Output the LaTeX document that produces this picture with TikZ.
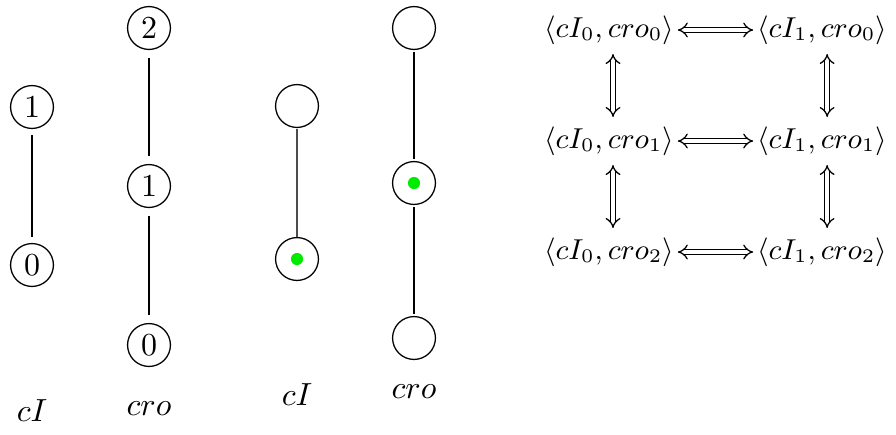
\documentclass[tikz,border=0pt]{standalone}
\usetikzlibrary{arrows.meta}
\begin{document}
\begin{tikzpicture}[x=0.3125pt,y=-0.3125pt,
  st/.style={circle,draw,line width=0.4pt,minimum size=13.4pt,inner sep=0pt},
  lnk/.style={line width=0.4pt},
  pair/.style={inner sep=1pt,font=\fontsize{9.2}{11}\selectfont},
  dbl/.style={double,double distance=1.2pt,line width=0.4pt,{Implies}-{Implies}},
  lab/.style={anchor=base,inner sep=0pt},
  dot/.style={fill={rgb,255:red,0;green,235;blue,0}}]
\useasboundingbox (0,0) rectangle (896,434);
% column 1
\node[st] (a1) at (32,107) {$1$};
\node[st] (a0) at (32,265) {$0$};
\draw[lnk,shorten <=1.9pt,shorten >=1.9pt] (a1) -- (a0);
% column 2
\node[st] (b2) at (149,28) {$2$};
\node[st] (b1) at (149,186) {$1$};
\node[st] (b0) at (149,345) {$0$};
\draw[lnk,shorten <=2.4pt,shorten >=2.4pt] (b2) -- (b1);
\draw[lnk,shorten <=2.4pt,shorten >=2.4pt] (b1) -- (b0);
% column 3
\node[st] (c1) at (297,106) {};
\node[st] (c0) at (297,259) {};
\fill[dot] (c0.center) circle[radius=1.9pt];
\draw[lnk,black!70,shorten <=0.3pt] (c1) -- (c0);
% column 4
\node[st] (d2) at (414,28) {};
\node[st] (d1) at (414,183) {};
\node[st] (d0) at (414,338) {};
\fill[dot] (d1.center) circle[radius=1.9pt];
\draw[lnk,shorten <=0.6pt,shorten >=0.6pt] (d2) -- (d1);
\draw[lnk,shorten <=0.6pt,shorten >=0.6pt] (d1) -- (d0);
% labels
\node[lab] (la) at (32,421) {$cI$};
\node[lab] (lb) at (149,415) {$cro$};
\node[lab] (lc) at (297,405) {$cI$};
\node[lab] (ld) at (414,398) {$cro$};
% matrix
\node[pair] (m00) at (609,30) {$\langle cI_0, cro_0\rangle$};
\node[pair] (m01) at (822,30) {$\langle cI_1, cro_0\rangle$};
\node[pair] (m10) at (609,141) {$\langle cI_0, cro_1\rangle$};
\node[pair] (m11) at (822,141) {$\langle cI_1, cro_1\rangle$};
\node[pair] (m20) at (609,252) {$\langle cI_0, cro_2\rangle$};
\node[pair] (m21) at (822,252) {$\langle cI_1, cro_2\rangle$};
\draw[dbl] (m00) -- (m01);
\draw[dbl] (m10) -- (m11);
\draw[dbl] (m20) -- (m21);
\draw[dbl,shorten <=1.8pt,shorten >=1.8pt] ([xshift=1.25pt]m00.south) -- ([xshift=1.25pt]m10.north);
\draw[dbl,shorten <=1.8pt,shorten >=1.8pt] ([xshift=1.25pt]m10.south) -- ([xshift=1.25pt]m20.north);
\draw[dbl,shorten <=1.8pt,shorten >=1.8pt] ([xshift=1.6pt]m01.south) -- ([xshift=1.6pt]m11.north);
\draw[dbl,shorten <=1.8pt,shorten >=1.8pt] ([xshift=1.6pt]m11.south) -- ([xshift=1.6pt]m21.north);
\end{tikzpicture}
\end{document}
